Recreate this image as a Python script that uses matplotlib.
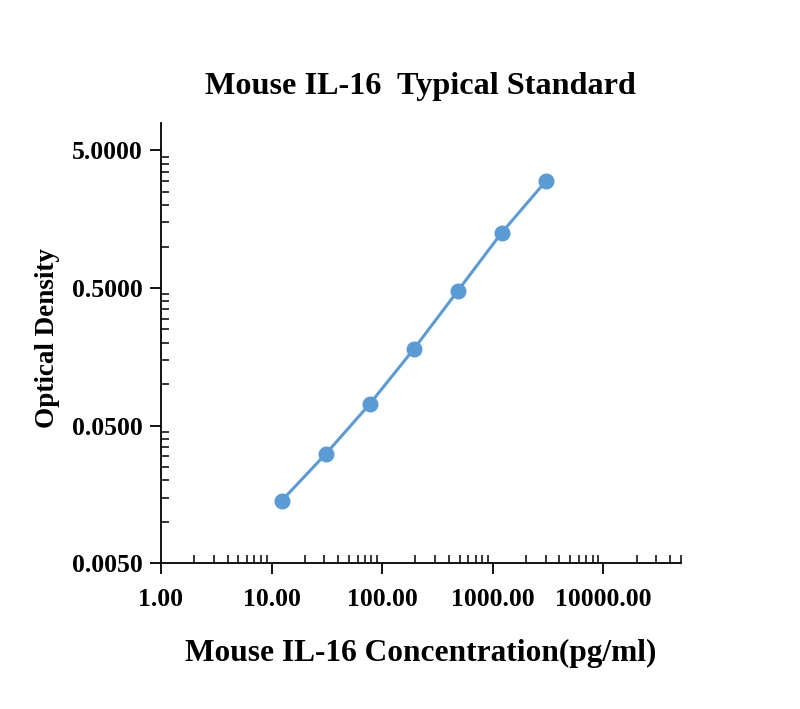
import numpy as np
import matplotlib
matplotlib.use("Agg")
import matplotlib.pyplot as plt
from matplotlib.ticker import FixedLocator, FormatStrFormatter

# standard curve values
conc = [12.29, 30.72, 76.8, 192.0, 480.0, 1200.0, 3000.0]
od = [0.0142, 0.0310, 0.0715, 0.179, 0.474, 1.257, 2.97]

x_major = [1, 10, 100, 1000, 10000]
y_major = [0.005, 0.05, 0.5, 5.0]

title = "Mouse IL-16  Typical Standard"
xlabel = "Mouse IL-16 Concentration(pg/ml)"
ylabel = "Optical Density"

plt.rcParams['font.family'] = ['Liberation Serif', 'DejaVu Serif']
plt.rcParams['font.weight'] = 'bold'

fig = plt.figure(figsize=(8, 7.09), dpi=100)
ax = fig.add_axes([161 / 800, 145.7 / 709, 519.7 / 800, 440.3 / 709])

color = '#5B9BD5'
ax.plot(conc, od, '-', color=color, linewidth=2.2, zorder=2)
ax.plot(conc, od, 'o', color=color, markersize=10.5, zorder=3)

ax.set_xscale('log')
ax.set_yscale('log')
ax.set_xlim(1, 50000)
ax.set_ylim(0.005, 7.9)

# ticks
ax.xaxis.set_major_locator(FixedLocator(x_major))
x_minor = [m * d for d in [1, 10, 100, 1000, 10000] for m in range(2, 10) if m * d <= 50000]
ax.xaxis.set_minor_locator(FixedLocator(x_minor))
ax.yaxis.set_major_locator(FixedLocator(y_major))
y_minor = [m * d for d in [0.005, 0.05, 0.5] for m in np.arange(2, 10)]
ax.yaxis.set_minor_locator(FixedLocator(y_minor))
ax.xaxis.set_major_formatter(FormatStrFormatter('%.2f'))
ax.yaxis.set_major_formatter(FormatStrFormatter('%.4f'))
ax.xaxis.set_minor_formatter(plt.NullFormatter())
ax.yaxis.set_minor_formatter(plt.NullFormatter())

ax.tick_params(which='major', direction='out', length=8, width=1.3,
               labelsize=18.5)
ax.tick_params(axis='x', which='major', pad=9.8)
ax.tick_params(axis='y', which='major', pad=5.4)
ax.tick_params(which='minor', direction='in', length=5.5, width=1.1)

for s in ['top', 'right']:
    ax.spines[s].set_visible(False)
for s in ['left', 'bottom']:
    ax.spines[s].set_linewidth(1.3)

for lbl in ax.get_xticklabels() + ax.get_yticklabels():
    lbl.set_fontweight('bold')

ax.set_title(title, fontsize=23.2, fontweight='bold', pad=21)
ax.set_xlabel(xlabel, fontsize=22.6, fontweight='bold', labelpad=20)
ax.set_ylabel(ylabel, fontsize=19.5, fontweight='bold')
ax.yaxis.set_label_coords(-0.195, 0.512)

fig.savefig("out.png", dpi=100)
